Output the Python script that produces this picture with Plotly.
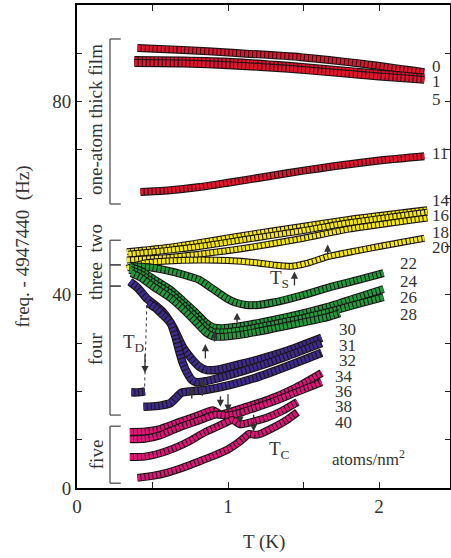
import plotly.graph_objects as go

# ---------------- data ----------------
T_0 = [0.40, 0.70, 1.03, 1.48, 1.90, 2.30]
F_0 = [91.1, 90.7, 90.1, 89.2, 87.8, 86.1]
T_1 = [0.38, 0.70, 1.03, 1.40, 1.70, 2.00, 2.30]
F_1 = [88.6, 88.5, 88.2, 87.4, 86.6, 85.8, 85.0]
T_5 = [0.38, 0.70, 1.03, 1.40, 1.70, 2.00, 2.30]
F_5 = [88.0, 87.9, 87.5, 86.8, 86.0, 85.2, 84.5]
T_11 = [0.42, 0.60, 0.81, 1.00, 1.26, 1.50, 1.70, 2.03, 2.30]
F_11 = [61.3, 61.6, 62.3, 63.2, 64.5, 65.7, 66.6, 67.9, 68.7]

T_14 = [0.33, 0.60, 0.81, 1.10, 1.48, 1.80, 2.32]
F_14 = [48.9, 49.8, 50.8, 52.3, 54.1, 55.6, 57.6]
T_16 = [0.34, 0.60, 0.81, 1.10, 1.48, 1.80, 2.32]
F_16 = [48.4, 49.2, 50.0, 51.4, 53.2, 54.9, 57.1]
T_18 = [0.33, 0.60, 0.81, 1.10, 1.48, 1.80, 2.32]
F_18 = [47.2, 47.7, 48.4, 49.6, 51.6, 53.6, 55.9]
T_20 = [0.33, 0.45, 0.60, 0.81, 1.00, 1.20, 1.32, 1.42, 1.52, 1.66, 1.85, 2.00, 2.30]
F_20 = [45.5, 46.6, 47.0, 47.2, 47.1, 46.6, 46.1, 45.9, 46.5, 47.9, 49.1, 50.0, 51.7]

T_22 = [0.35, 0.50, 0.60, 0.70, 0.81, 0.90, 0.99, 1.05, 1.12, 1.20, 1.30, 1.48, 1.70, 1.85, 2.03]
F_22 = [46.0, 45.6, 45.0, 44.2, 43.1, 41.2, 39.3, 38.4, 37.9, 37.9, 38.4, 39.8, 41.8, 43.0, 44.5]
T_24 = [0.35, 0.42, 0.50, 0.62, 0.70, 0.78, 0.85, 0.90, 0.96, 1.10, 1.30, 1.50, 1.66, 1.85, 2.03]
F_24 = [45.8, 45.0, 43.4, 41.0, 38.8, 36.5, 34.3, 33.3, 33.1, 33.6, 34.8, 36.2, 37.5, 39.4, 41.2]
T_26 = [0.35, 0.42, 0.50, 0.62, 0.70, 0.78, 0.85, 0.90, 0.96, 1.10, 1.30, 1.50, 1.66, 1.85, 2.03]
F_26 = [45.2, 44.3, 42.6, 40.2, 38.0, 35.6, 33.3, 32.3, 32.2, 32.7, 33.9, 35.2, 36.4, 38.0, 39.5]
T_28 = [0.36, 0.42, 0.50, 0.62, 0.70, 0.78, 0.85, 0.90, 0.96, 1.10, 1.30, 1.50, 1.66, 1.74]
F_28 = [44.5, 43.6, 41.8, 39.3, 37.1, 34.6, 32.3, 31.4, 31.3, 31.8, 33.0, 34.3, 35.4, 36.2]

T_30 = [0.35, 0.40, 0.46, 0.52, 0.57, 0.64, 0.70, 0.75, 0.81, 0.86, 0.93, 1.01, 1.20, 1.40, 1.62]
F_30 = [42.7, 41.5, 39.3, 37.8, 36.4, 33.1, 29.2, 27.1, 25.1, 24.4, 24.5, 25.1, 26.6, 28.5, 31.1]
T_31 = [0.36, 0.40, 0.45, None, 0.47, 0.52, 0.57, 0.62, 0.65, 0.68, 0.70, 0.73, 0.76, 0.79, 0.85, 1.01, 1.20, 1.40, 1.62]
F_31 = [19.8, 19.8, 20.0, None, 38.3, 37.3, 35.8, 34.2, 31.5, 28.0, 25.9, 23.8, 22.4, 21.9, 22.1, 23.4, 25.2, 27.4, 30.0]
T_32 = [0.44, 0.50, 0.56, 0.62, 0.66, 0.69, 0.75, 0.85, 1.01, 1.20, 1.40, 1.62]
F_32 = [16.8, 16.9, 17.1, 17.6, 18.8, 19.7, 20.0, 20.3, 21.3, 23.0, 25.3, 28.0]

T_34 = [0.35, 0.45, 0.55, 0.68, 0.80, 0.90, 0.95, 1.00, 1.10, 1.26, 1.45, 1.62]
F_34 = [11.6, 11.7, 12.2, 13.7, 15.0, 16.1, 15.3, 15.6, 16.6, 18.2, 20.8, 23.8]
T_36 = [0.35, 0.45, 0.55, 0.68, 0.80, 0.92, 0.99, 1.05, 1.15, 1.30, 1.45, 1.62]
F_36 = [10.1, 10.2, 10.9, 12.6, 13.9, 15.2, 15.0, 15.3, 16.3, 17.9, 19.8, 21.9]
T_38 = [0.35, 0.45, 0.55, 0.65, 0.75, 0.85, 0.95, 1.03, 1.08, 1.15, 1.26, 1.36, 1.46]
F_38 = [6.4, 6.5, 7.2, 8.3, 9.8, 11.6, 13.0, 14.1, 13.2, 13.6, 14.6, 16.0, 17.8]
T_40 = [0.40, 0.50, 0.60, 0.70, 0.80, 0.90, 1.00, 1.06, 1.10, 1.14, 1.18, 1.22, 1.30, 1.38, 1.46]
F_40 = [2.1, 2.5, 3.2, 4.2, 5.4, 6.6, 8.0, 9.2, 10.2, 11.2, 11.0, 11.3, 12.5, 13.9, 15.7]

# right-hand coverage labels (atoms/nm^2)
LABELS = ["0", "1", "5", "11", "14", "16", "18", "20", "22", "24", "26", "28",
          "30", "31", "32", "34", "36", "38", "40"]
LABEL_T = [2.34, 2.34, 2.34, 2.34, 2.34, 2.34, 2.34, 2.34, 2.126, 2.126, 2.126, 2.126,
           1.72, 1.72, 1.72, 1.695, 1.695, 1.695, 1.695]
LABEL_F = [87.2, 84.1, 80.5, 69.2, 59.6, 56.5, 53.0, 49.7, 46.4, 42.7, 39.5, 36.0,
           32.9, 29.6, 26.3, 23.0, 19.9, 16.8, 13.5]

RED, YEL, GRN, PUR, PNK = "#e3122e", "#f7ec00", "#1f9b3e", "#3c2b8e", "#df1479"
series = [
    ("0", T_0, F_0, RED), ("1", T_1, F_1, RED), ("5", T_5, F_5, RED), ("11", T_11, F_11, RED),
    ("14", T_14, F_14, YEL), ("16", T_16, F_16, YEL), ("18", T_18, F_18, YEL), ("20", T_20, F_20, YEL),
    ("22", T_22, F_22, GRN), ("24", T_24, F_24, GRN), ("26", T_26, F_26, GRN), ("28", T_28, F_28, GRN),
    ("30", T_30, F_30, PUR), ("31", T_31, F_31, PUR), ("32", T_32, F_32, PUR),
    ("34", T_34, F_34, PNK), ("36", T_36, F_36, PNK), ("38", T_38, F_38, PNK), ("40", T_40, F_40, PNK),
]
WIDTH = {RED: 8.0, YEL: 7.0, GRN: 8.0, PUR: 8.5, PNK: 8.0}

fig = go.Figure()
for name, t, f, col in series:
    w = WIDTH[col]
    fig.add_trace(go.Scatter(x=t, y=f, mode="lines", name=name, showlegend=False,
                             line=dict(color="#1c1414", width=w, shape="spline", smoothing=0.6),
                             hoverinfo="skip"))
    fig.add_trace(go.Scatter(x=t, y=f, mode="lines", name=name, showlegend=False,
                             line=dict(color=col, width=w - 2.2, shape="spline", smoothing=0.6,
                                       dash="3px,1px")))

FONT = "Liberation Serif"
TXT = "#333333"
ann = []
for lab, lt, lf in zip(LABELS, LABEL_T, LABEL_F):
    ann.append(dict(x=lt, y=lf, text=lab, showarrow=False, xanchor="left", yanchor="middle",
                    font=dict(family=FONT, size=17, color=TXT)))

ann.append(dict(x=1.675, y=6.2, text="atoms/nm<sup>2</sup>", showarrow=False, xanchor="left",
                yanchor="middle", font=dict(family=FONT, size=17, color=TXT)))
ann.append(dict(x=1.34, y=43.3, text="T<sub>S</sub>", showarrow=False,
                font=dict(family=FONT, size=19, color=TXT)))
ann.append(dict(x=1.34, y=7.9, text="T<sub>C</sub>", showarrow=False,
                font=dict(family=FONT, size=19, color=TXT)))
ann.append(dict(x=0.38, y=30.0, text="T<sub>D</sub>", showarrow=False,
                font=dict(family=FONT, size=19, color=TXT)))

# bracket labels
for txt, yc in [("one-atom thick film", 76.2), ("three  two", 46.8), ("four", 28.8), ("five", 7.0)]:
    ann.append(dict(x=0.126, y=yc, text=txt, showarrow=False, textangle=-90,
                    xanchor="center", yanchor="middle", font=dict(family=FONT, size=19, color=TXT)))

# x-axis title, placed below the plot area
ann.append(dict(x=0.5, y=0, xref="paper", yref="paper", yanchor="middle", yshift=-54,
                text="T (K)", showarrow=False, font=dict(family=FONT, size=19, color=TXT)))

# arrows (tail -> tip)
ARROWS = [
    (1.44, 41.6, 1.44, 44.8), (1.66, 48.0, 1.66, 50.4), (1.06, 34.0, 1.06, 36.3),
    (0.85, 26.5, 0.85, 29.8), (0.91, 30.0, 0.91, 32.6),
    (0.76, 18.2, 0.76, 21.0), (0.83, 18.8, 0.83, 22.8),
    (0.95, 19.3, 0.95, 16.8), (1.00, 19.7, 1.00, 15.8), (1.08, 16.3, 1.08, 13.3), (1.17, 15.5, 1.17, 11.7),
    (0.45, 28.0, 0.45, 23.8),
]
for x0, y0, x1, y1 in ARROWS:
    ann.append(dict(x=x1, y=y1, ax=x0, ay=y0, xref="x", yref="y", axref="x", ayref="y",
                    showarrow=True, arrowhead=2, arrowsize=1.1, arrowwidth=1.3, arrowcolor="#333333",
                    text=""))

shapes = [dict(type="line", x0=0.462, y0=37.8, x1=0.447, y1=19.9, xref="x", yref="y",
               line=dict(color="#333333", width=1, dash="dot"))]
# brackets
BX, BX2 = 0.2185, 0.29
for top, bot in [(92.96, 58.8), (51.3, 46.2), (46.2, 41.8), (41.8, 15.1), (12.8, 1.0)]:
    shapes.append(dict(type="line", x0=BX, x1=BX, y0=bot, y1=top, line=dict(color="#444444", width=1.2)))
    shapes.append(dict(type="line", x0=BX, x1=BX2, y0=top, y1=top, line=dict(color="#444444", width=1.2)))
    shapes.append(dict(type="line", x0=BX, x1=BX2, y0=bot, y1=bot, line=dict(color="#444444", width=1.2)))

fig.update_layout(
    width=451, height=558, margin=dict(l=77, r=1, t=5, b=70, autoexpand=False),
    paper_bgcolor="white", plot_bgcolor="white",
    font=dict(family=FONT, color=TXT),
    annotations=ann, shapes=shapes, showlegend=False,
    xaxis=dict(range=[0, 2.47], tickvals=[0, 0.5, 1, 1.5, 2], ticktext=["0", "", "1", "", "2"],
               ticks="inside", ticklen=6, tickwidth=1.2, tickcolor="#222", showline=True, linewidth=2,
               linecolor="black", mirror="ticks", showgrid=False, zeroline=False, automargin=False,
               tickfont=dict(family=FONT, size=19, color=TXT)),
    yaxis=dict(range=[0, 100], tickvals=list(range(0, 101, 10)),
               ticktext=["0", "", "", "", "40", "", "", "", "80", "", ""],
               ticks="inside", ticklen=5, tickwidth=1.2, tickcolor="#222", showline=True, linewidth=2,
               linecolor="black", mirror="ticks", showgrid=False, zeroline=False, automargin=False,
               tickfont=dict(family=FONT, size=19, color=TXT),
               title=dict(text="freq. - 4947440  (Hz)", font=dict(family=FONT, size=19, color=TXT),
                          standoff=18)),
)
fig.write_html("out.html", config={"displayModeBar": False},
               post_script="document.body.style.margin='0';")
